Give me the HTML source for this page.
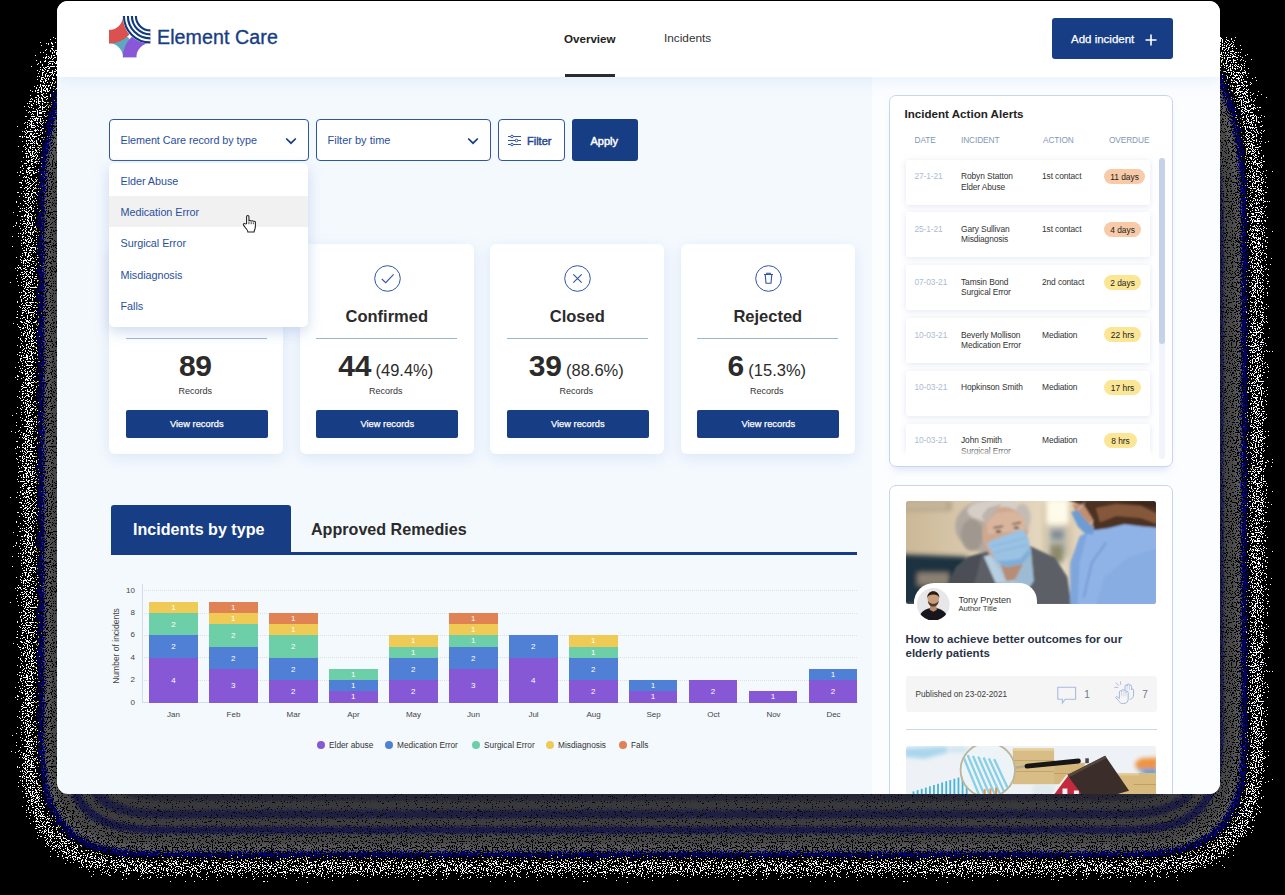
<!DOCTYPE html>
<html><head><meta charset="utf-8">
<style>
*{box-sizing:border-box;margin:0;padding:0}
html,body{width:1285px;height:895px;background:#000;overflow:hidden;font-family:"Liberation Sans",sans-serif;}
.abs{position:absolute}
#win{position:absolute;left:57px;top:1px;width:1163px;height:793px;border-radius:11px;background:#f4f9fe;overflow:hidden}
/* everything inside #win positioned with page coords via inner wrapper shifted */
#pg{position:absolute;left:-57px;top:-1px;width:1285px;height:895px}
#hdr{position:absolute;left:57px;top:0;width:1163px;height:77px;background:#fff;box-shadow:0 3px 16px rgba(150,190,240,.22)}
.navy{color:#173d84}
.t{position:absolute;white-space:nowrap;line-height:1}

.sel{position:absolute;top:119px;height:42px;border:1px solid #2f55a4;border-radius:4px;background:#fff}
.lnk{color:#2a4f9e}
.card{position:absolute;top:244px;width:174px;height:210px;background:#fff;border-radius:6px;box-shadow:0 4px 14px rgba(190,208,236,.45)}
.card .ic{position:absolute;left:74.2px;top:20.6px;width:27px;height:27px}
.card .ttl{position:absolute;left:0;width:174px;top:63px;text-align:center;font-size:16.5px;font-weight:bold;color:#2b2b2b;line-height:18px}
.card .hr{position:absolute;left:16.3px;top:94px;width:141px;height:1px;background:#9bb4dc}
.card .num{position:absolute;left:-1px;width:174px;top:105px;text-align:center;white-space:nowrap;line-height:34px;color:#2b2b2b}
.card .num b{font-size:30px;letter-spacing:-.3px}
.card .num span{font-size:16.5px}
.card .rec{position:absolute;left:-1px;width:174px;top:142px;text-align:center;font-size:9px;color:#333;line-height:11px}
.card .btn{position:absolute;left:16.5px;top:166px;width:142px;height:28px;background:#173d84;border-radius:2px;color:#fff;font-size:9.3px;text-align:center;line-height:28px;-webkit-text-stroke:.25px #fff}

.bl{position:absolute;width:48.9px;color:#fff;font-size:8px;text-align:center}
.ax{position:absolute;font-size:8px;color:#444;line-height:10px}

.pan{position:absolute;left:889px;width:284px;background:#fff;border:1px solid #c9d5ef;border-radius:7px}
.th{position:absolute;top:135px;font-size:8.3px;color:#8397b5;line-height:10px;letter-spacing:-.1px}
.row{position:absolute;left:906px;width:244px;height:45px;background:#fff;border-radius:3px;box-shadow:0 1px 6px rgba(200,210,232,.55)}
.rt{position:absolute;font-size:8.4px;line-height:10.4px;color:#333;white-space:nowrap;letter-spacing:-.1px}
.bdg{position:absolute;left:1104px;height:15px;border-radius:8px;font-size:8.4px;line-height:16.4px;color:#222;text-align:center}
</style></head><body>
<!--SHADOW--><svg class="abs" style="left:0;top:37px" width="1285" height="858" viewBox="0 37 1285 858">
<filter id="sh" x="0" y="0" width="1285" height="895" filterUnits="userSpaceOnUse" color-interpolation-filters="sRGB">
<feGaussianBlur in="SourceAlpha" stdDeviation="36.0" result="A"/>
<feTurbulence type="fractalNoise" baseFrequency="0.8" numOctaves="2" seed="5" result="T"/>
<feColorMatrix in="T" type="matrix" values="0 0 0 0 0  0 0 0 0 0  0 0 0 0 0  0 1 0 0 0" result="NB"/>
<feComposite in="A" in2="NB" operator="arithmetic" k1="0" k2="1" k3="0.1" k4="-0.05" result="AJ"/>
<feComponentTransfer in="AJ" result="PA"><feFuncA type="discrete" tableValues="0 0 0 0 0 0 0 0 0 0 0 0 0 0 0 0 0 0.379 0.379 0.379 0.439 0.439 0.471 0.471 0.471 0.471 0.471 0.471 0.471 0.471 0.471 0.471 0.471 0.471 0.471 0.436 0.436 0.436 0.391 0.391 0.391 0.428 0.428 0.428 0.474 0.474 0.544 0.544 0.544 0.544 0.544 0.544 0.544 0.544 0.544 0.583 0.583 0.583 0.583 0.583 0.583 0.583 0.583 0.583 0.583 0.583 0.583 0.583 0.583 0.588 0.594 0.599 0.605 0.61 0.616 0.621 0.621 0.621 0.621 0.621 0.621 0.621 0.621 0.621 0.621 0.621 0.621 0.621 0.621 0.621 0.621 0.621 0.621 0.621 0.621 0.621 0.621 0.628 0.636 0.643 0.651 0.658 0.666 0.673 0.673 0.673 0.673 0.673 0.673 0.673 0.673 0.673 0.673 0.673 0.673 0.673 0.673 0.673 0.676 0.68 0.683 0.687 0.69 0.694 0.697 0.697 0.697 0.697 0.697 0.697 0.697 0.697 0.697 0.697 0.697 0.697 0.697 0.697 0.697 0.697 0.697 0.697 0.697 0.697 0.697 0.697 0.697 0.697 0.697 0.697 0.697 0.697 0.697 0.697 0.697 0.697 0.697 0.697 0.697 0.697 0.697 0.697 0.7 0.703 0.706 0.708 0.711 0.714 0.717 0.717 0.717 0.717 0.717 0.717 0.717 0.717 0.717 0.717 0.717 0.717 0.717 0.717 0.717 0.717 0.719 0.72 0.722 0.724 0.726 0.727 0.729 0.729 0.729 0.729 0.729 0.729 0.729 0.729 0.729 0.729 0.729 0.729 0.729 0.729 0.729 0.729 0.729 0.729 0.729 0.729 0.729 0.729 0.729 0.729 0.729 0.729 0.729 0.729 0.729 0.729 0.729 0.729 0.729 0.729 0.729 0.729 0.729 0.729 0.729 0.729 0.729 0.729 0.729 0.729 0.729 0.729 0.729 0.729 0.729 0.729 0.729 0.729 0.729 0.729 0.729 0.729 0.729 0.729 0.729 0.729"/></feComponentTransfer>
<feColorMatrix in="T" type="matrix" values="0 0 0 0 0  0 0 0 0 0  0 0 0 0 0  1 0 0 0 0" result="NA"/>
<feComposite in="PA" in2="NA" operator="arithmetic" k1="0" k2="1" k3="-1" k4="0.48" result="V"/>
<feComponentTransfer in="V" result="D"><feFuncA type="discrete" tableValues="0 1"/></feComponentTransfer>
<feColorMatrix in="AJ" type="matrix" values="0 0 0 1 0  0 0 0 1 0  0 0 0 1 0  0 0 0 0 1" result="AC"/>
<feComponentTransfer in="AC" result="CA"><feFuncR type="discrete" tableValues="0 0 0 0 0 0 0 0 0 0 0 0 0 0 0 0 0 1 1 1 1 1 1 1 1 1 1 1 1 1 1 1 1 1 1 1 1 1 0.922 0.922 0.922 0.784 0.784 0.784 0 0 0 0 0 0 0 0 0 0 0 0.188 0.188 0.188 0.353 0.353 0.353 0.353 0.353 0.353 0.353 0.353 0.353 0.353 0.353 0.343 0.333 0.323 0.312 0.302 0.292 0.282 0.282 0.282 0.282 0.282 0.282 0.282 0.282 0.282 0.282 0.282 0.282 0.282 0.282 0.282 0.282 0.282 0.282 0.282 0.282 0.282 0.282 0.256 0.231 0.205 0.179 0.153 0.128 0.102 0.102 0.102 0.102 0.102 0.102 0.102 0.102 0.102 0.102 0.102 0.102 0.102 0.102 0.102 0.122 0.142 0.162 0.183 0.203 0.223 0.243 0.243 0.243 0.243 0.243 0.243 0.243 0.243 0.243 0.243 0.243 0.243 0.243 0.243 0.243 0.226 0.209 0.192 0.176 0.159 0.142 0.125 0.125 0.125 0.125 0.125 0.125 0.125 0.125 0.125 0.125 0.125 0.125 0.125 0.125 0.125 0.125 0.125 0.14 0.154 0.169 0.183 0.198 0.212 0.227 0.227 0.227 0.227 0.227 0.227 0.227 0.227 0.227 0.227 0.227 0.227 0.227 0.227 0.227 0.227 0.216 0.205 0.194 0.182 0.171 0.16 0.149 0.149 0.149 0.149 0.149 0.149 0.149 0.149 0.149 0.149 0.149 0.149 0.149 0.149 0.149 0.149 0.149 0.149 0.149 0.149 0.149 0.149 0.149 0.149 0.149 0.149 0.149 0.149 0.149 0.149 0.149 0.149 0.149 0.149 0.149 0.149 0.149 0.149 0.149 0.149 0.149 0.149 0.149 0.149 0.149 0.149 0.149 0.149 0.149 0.149 0.149 0.149 0.149 0.149 0.149 0.149 0.149 0.149 0.149 0.149"/><feFuncG type="discrete" tableValues="0 0 0 0 0 0 0 0 0 0 0 0 0 0 0 0 0 1 1 1 1 1 1 1 1 1 1 1 1 1 1 1 1 1 1 1 1 1 0.922 0.922 0.922 0.706 0.706 0.706 0 0 0 0 0 0 0 0 0 0 0 0.188 0.188 0.188 0.353 0.353 0.353 0.353 0.353 0.353 0.353 0.353 0.353 0.353 0.353 0.343 0.333 0.323 0.312 0.302 0.292 0.282 0.282 0.282 0.282 0.282 0.282 0.282 0.282 0.282 0.282 0.282 0.282 0.282 0.282 0.282 0.282 0.282 0.282 0.282 0.282 0.282 0.282 0.256 0.231 0.205 0.179 0.153 0.128 0.102 0.102 0.102 0.102 0.102 0.102 0.102 0.102 0.102 0.102 0.102 0.102 0.102 0.102 0.102 0.122 0.142 0.162 0.183 0.203 0.223 0.243 0.243 0.243 0.243 0.243 0.243 0.243 0.243 0.243 0.243 0.243 0.243 0.243 0.243 0.243 0.226 0.209 0.192 0.176 0.159 0.142 0.125 0.125 0.125 0.125 0.125 0.125 0.125 0.125 0.125 0.125 0.125 0.125 0.125 0.125 0.125 0.125 0.125 0.14 0.154 0.169 0.183 0.198 0.212 0.227 0.227 0.227 0.227 0.227 0.227 0.227 0.227 0.227 0.227 0.227 0.227 0.227 0.227 0.227 0.227 0.216 0.205 0.194 0.182 0.171 0.16 0.149 0.149 0.149 0.149 0.149 0.149 0.149 0.149 0.149 0.149 0.149 0.149 0.149 0.149 0.149 0.149 0.149 0.149 0.149 0.149 0.149 0.149 0.149 0.149 0.149 0.149 0.149 0.149 0.149 0.149 0.149 0.149 0.149 0.149 0.149 0.149 0.149 0.149 0.149 0.149 0.149 0.149 0.149 0.149 0.149 0.149 0.149 0.149 0.149 0.149 0.149 0.149 0.149 0.149 0.149 0.149 0.149 0.149 0.149 0.149"/><feFuncB type="discrete" tableValues="0 0 0 0 0 0 0 0 0 0 0 0 0 0 0 0 0 1 1 1 1 1 1 1 1 1 1 1 1 1 1 1 1 1 1 1 1 1 0.922 0.922 0.922 0 0 0 0.49 0.49 0.502 0.502 0.502 0.502 0.502 0.502 0.502 0.502 0.502 0.408 0.408 0.408 0.353 0.353 0.353 0.353 0.353 0.353 0.353 0.353 0.353 0.353 0.353 0.343 0.333 0.323 0.312 0.302 0.292 0.282 0.282 0.282 0.282 0.282 0.282 0.282 0.282 0.282 0.282 0.282 0.282 0.282 0.282 0.282 0.282 0.282 0.282 0.282 0.282 0.282 0.282 0.284 0.287 0.289 0.291 0.293 0.296 0.298 0.298 0.298 0.298 0.298 0.298 0.298 0.298 0.298 0.298 0.298 0.298 0.298 0.298 0.298 0.29 0.282 0.274 0.267 0.259 0.251 0.243 0.243 0.243 0.243 0.243 0.243 0.243 0.243 0.243 0.243 0.243 0.243 0.243 0.243 0.243 0.245 0.248 0.25 0.252 0.254 0.257 0.259 0.259 0.259 0.259 0.259 0.259 0.259 0.259 0.259 0.259 0.259 0.259 0.259 0.259 0.259 0.259 0.259 0.256 0.252 0.249 0.245 0.242 0.238 0.235 0.235 0.235 0.235 0.235 0.235 0.235 0.235 0.235 0.235 0.235 0.235 0.235 0.235 0.235 0.235 0.231 0.226 0.222 0.217 0.213 0.208 0.204 0.204 0.204 0.204 0.204 0.204 0.204 0.204 0.204 0.204 0.204 0.204 0.204 0.204 0.204 0.204 0.204 0.204 0.204 0.204 0.204 0.204 0.204 0.204 0.204 0.204 0.204 0.204 0.204 0.204 0.204 0.204 0.204 0.204 0.204 0.204 0.204 0.204 0.204 0.204 0.204 0.204 0.204 0.204 0.204 0.204 0.204 0.204 0.204 0.204 0.204 0.204 0.204 0.204 0.204 0.204 0.204 0.204 0.204 0.204"/></feComponentTransfer>
<feComposite in="CA" in2="D" operator="in"/>
</filter>
<linearGradient id="shg" gradientUnits="userSpaceOnUse" x1="0" y1="3.5" x2="0" y2="168.5"><stop offset="0" stop-color="#000" stop-opacity="0"/><stop offset="1" stop-color="#000" stop-opacity="1"/></linearGradient>
<rect x="71.0" y="3.5" width="1143.5" height="821.2" rx="11" fill="url(#shg)" filter="url(#sh)"/>
</svg><!--/SHADOW-->
<div id="win"><div id="pg">
<div id="side" class="abs" style="left:872px;top:77px;width:348px;height:720px;background:#fcfdff"></div>
<div id="hdr"></div>

<svg class="abs" style="left:109px;top:16px" width="42" height="42" viewBox="0 0 42 42">
<path d="M0,13.799999999999997 A27.5 27.5 0 0 1 27.5,41.3 L14,41.3 A14 14 0 0 0 0,27.299999999999997 Z" fill="#5aa9be"/>
<path d="M13.799999999999997,41.3 A27.5 27.5 0 0 1 41.3,13.799999999999997 L41.3,27.299999999999997 A14 14 0 0 0 27.299999999999997,41.3 Z" fill="#8957d8"/>
<path d="M14,0 L27.5,0 A27.5 27.5 0 0 1 0,27.5 L0,14 A14 14 0 0 0 14,0 Z" fill="#da5150"/>
<path d="M41.3,27.8 A27.8 27.8 0 0 1 13.499999999999996,0 L28.299999999999997,0 A13 13 0 0 0 41.3,13 Z" fill="#fff"/>
<g fill="none" stroke="#123a7c" stroke-width="2.15">
<path d="M14.899999999999999,0 A26.4 26.4 0 0 0 41.3,26.4"/>
<path d="M18.9,0 A22.4 22.4 0 0 0 41.3,22.4"/>
<path d="M22.9,0 A18.4 18.4 0 0 0 41.3,18.4"/>
<path d="M26.9,0 A14.4 14.4 0 0 0 41.3,14.4"/>
</g></svg>
<div class="t" id="brand" style="left:157px;top:28px;font-size:19.6px;letter-spacing:.1px;color:#173d84;-webkit-text-stroke:.35px #173d84">Element Care</div>
<div class="t" id="nav1" style="left:564px;top:33px;font-size:11.6px;font-weight:bold;color:#222">Overview</div>
<div class="abs" style="left:565px;top:74px;width:50px;height:3px;background:#2b2b2b"></div>
<div class="t" id="nav2" style="left:664px;top:33px;font-size:11.8px;color:#333">Incidents</div>
<div class="abs" style="left:1052px;top:18px;width:121px;height:41px;border-radius:3px;background:#173d84"></div>
<div class="t" id="addinc" style="left:1071px;top:34px;font-size:11.5px;color:#fff;-webkit-text-stroke:.25px #fff">Add incident</div>
<svg class="abs" style="left:1145px;top:33.6px" width="12" height="12" viewBox="0 0 12 12"><path d="M6 .5V11.5M.5 6H11.5" stroke="#fff" stroke-width="1.6" fill="none"/></svg>
<!--HEADER-->

<div class="sel" style="left:109px;width:200px"></div>
<div class="t lnk" id="f1" style="left:120.5px;top:135px;font-size:10.8px;letter-spacing:-.04px">Element Care record by type</div>
<svg class="abs" style="left:285px;top:137px" width="12" height="8" viewBox="0 0 12 8"><path d="M1.2 1.5L6 6.2L10.8 1.5" fill="none" stroke="#173d84" stroke-width="1.7"/></svg>
<div class="sel" style="left:316px;width:175px"></div>
<div class="t lnk" id="f2" style="left:327.5px;top:135px;font-size:11px">Filter by time</div>
<svg class="abs" style="left:467px;top:137px" width="12" height="8" viewBox="0 0 12 8"><path d="M1.2 1.5L6 6.2L10.8 1.5" fill="none" stroke="#173d84" stroke-width="1.7"/></svg>
<div class="sel" style="left:498px;width:67px"></div>
<svg class="abs" style="left:508px;top:134px" width="14" height="13" viewBox="0 0 14 13"><g stroke="#2f55a4" stroke-width="1" fill="#fff"><path d="M0 2.5H13M0 6.5H13M0 10.5H13"/><circle cx="4" cy="2.5" r="1.3"/><circle cx="8.5" cy="6.5" r="1.3"/><circle cx="4" cy="10.5" r="1.3"/></g></svg>
<div class="t" id="f3" style="left:527px;top:135.5px;font-size:11px;color:#1f4692;-webkit-text-stroke:.45px #1f4692">Filter</div>
<div class="abs" style="left:572px;top:119px;width:66px;height:42px;border-radius:3px;background:#173d84"></div>
<div class="t" id="f4" style="left:590.5px;top:135.5px;font-size:11px;color:#fff;-webkit-text-stroke:.45px #fff">Apply</div>
<!--FILTERS-->
<div class="card" style="left:109.3px"><svg class="ic" viewBox="0 0 27 27"><circle cx="13.5" cy="13.5" r="12.8" fill="none" stroke="#2f55a4" stroke-width="1"/></svg>
<div class="ttl">Pending</div><div class="hr"></div><div class="num"><b>89</b></div><div class="rec">Records</div><div class="btn">View records</div></div>
<div class="card" style="left:299.8px"><svg class="ic" viewBox="0 0 27 27"><circle cx="13.5" cy="13.5" r="12.8" fill="none" stroke="#2f55a4" stroke-width="1"/><path d="M7.8 14L11.7 17.7L19.6 9.3" fill="none" stroke="#2f55a4" stroke-width="1.1"/></svg>
<div class="ttl">Confirmed</div><div class="hr"></div><div class="num"><b>44</b> <span>(49.4%)</span></div><div class="rec">Records</div><div class="btn">View records</div></div>
<div class="card" style="left:490.3px"><svg class="ic" viewBox="0 0 27 27"><circle cx="13.5" cy="13.5" r="12.8" fill="none" stroke="#2f55a4" stroke-width="1"/><path d="M9.3 9.3L17.7 17.7M17.7 9.3L9.3 17.7" fill="none" stroke="#2f55a4" stroke-width="1.1"/></svg>
<div class="ttl">Closed</div><div class="hr"></div><div class="num"><b>39</b> <span>(88.6%)</span></div><div class="rec">Records</div><div class="btn">View records</div></div>
<div class="card" style="left:680.8px"><svg class="ic" viewBox="0 0 27 27"><circle cx="13.5" cy="13.5" r="12.8" fill="none" stroke="#2f55a4" stroke-width="1"/><path d="M9 9.5H18M11.7 9.5V8.3H15.3V9.5M10.2 9.5L11 18.3H16L16.8 9.5" fill="none" stroke="#2f55a4" stroke-width="1.1"/></svg>
<div class="ttl">Rejected</div><div class="hr"></div><div class="num"><b>6</b> <span>(15.3%)</span></div><div class="rec">Records</div><div class="btn">View records</div></div>
<!--CARDS-->

<div class="abs" style="left:109px;top:163px;width:199px;height:164px;background:#fff;border-radius:5px;box-shadow:0 5px 14px rgba(170,190,225,.55)"></div>
<div class="abs" style="left:109px;top:196px;width:199px;height:31px;background:#f1f1f1"></div>
<div class="t lnk" style="left:120.5px;top:175.6px;font-size:10.8px;letter-spacing:-.04px">Elder Abuse</div>
<div class="t lnk" style="left:120.5px;top:206.5px;font-size:10.8px;letter-spacing:-.04px">Medication Error</div>
<div class="t lnk" style="left:120.5px;top:238px;font-size:10.8px;letter-spacing:-.04px">Surgical Error</div>
<div class="t lnk" style="left:120.5px;top:269.5px;font-size:10.8px;letter-spacing:-.04px">Misdiagnosis</div>
<div class="t lnk" style="left:120.5px;top:301px;font-size:10.8px;letter-spacing:-.04px">Falls</div>
<svg class="abs" style="left:241px;top:214px" width="17.2" height="19.4" viewBox="0 0 16 19" preserveAspectRatio="none"><path d="M5.2 9.5V2.6c0-1.5 2.2-1.5 2.2 0V7.2c0-1.2 2.1-1.2 2.1.2c0-1.1 2-1 2 .3c0-1 1.9-.8 1.9.4V12c0 3-1.2 4-1.2 5.6H6.4c0-1.6-1-2.4-2.3-4.2L2.4 10.9c-.8-1.3.8-2.2 1.7-1.1z" fill="#fff" stroke="#222" stroke-width="1"/><path d="M7.4 7.5V10M9.5 7.8V10M11.5 8.2V10" stroke="#222" stroke-width=".8" fill="none"/></svg>
<!--DROPDOWN-->

<div class="abs" style="left:111px;top:552.3px;width:746px;height:2.4px;background:#173d84"></div>
<div class="abs" style="left:111px;top:504.6px;width:179.5px;height:50px;background:#173d84;border-radius:3px 3px 0 3px"></div>
<div class="t" id="tab1" style="left:133px;top:521px;font-size:16.1px;font-weight:bold;color:#fff">Incidents by type</div>
<div class="t" id="tab2" style="left:311px;top:521px;font-size:16.1px;font-weight:bold;color:#2b2b2b">Approved Remedies</div>
<!--TABS-->
<div class="abs" style="left:142px;top:679.7px;width:715px;height:0;border-top:1px dotted #dce1e8"></div>
<div class="abs" style="left:142px;top:657.3px;width:715px;height:0;border-top:1px dotted #dce1e8"></div>
<div class="abs" style="left:142px;top:634.9px;width:715px;height:0;border-top:1px dotted #dce1e8"></div>
<div class="abs" style="left:142px;top:612.5px;width:715px;height:0;border-top:1px dotted #dce1e8"></div>
<div class="abs" style="left:142px;top:590.1px;width:715px;height:0;border-top:1px dotted #dce1e8"></div>
<div class="abs" style="left:141.5px;top:584px;width:1px;height:118.6px;background:#d5dcea"></div>
<div class="abs" style="left:141.5px;top:702.1px;width:716px;height:1px;background:#d5dcea"></div>
<div class="ax" style="left:115px;width:20px;text-align:right;top:697.6px">0</div>
<div class="ax" style="left:115px;width:20px;text-align:right;top:675.2px">2</div>
<div class="ax" style="left:115px;width:20px;text-align:right;top:652.8px">4</div>
<div class="ax" style="left:115px;width:20px;text-align:right;top:630.4px">6</div>
<div class="ax" style="left:115px;width:20px;text-align:right;top:608.0px">8</div>
<div class="ax" style="left:115px;width:20px;text-align:right;top:585.6px">10</div>
<div class="ax" style="left:76px;top:641px;width:80px;text-align:center;transform:rotate(-90deg);font-size:8.5px">Number of incidents</div>
<div class="bl" style="left:149.0px;top:657.8px;height:44.8px;line-height:45.8px;background:#8758d6">4</div><div class="bl" style="left:149.0px;top:635.4px;height:22.4px;line-height:23.4px;background:#4f80d6">2</div><div class="bl" style="left:149.0px;top:613.0px;height:22.4px;line-height:23.4px;background:#6dcfa8">2</div><div class="bl" style="left:149.0px;top:601.8px;height:11.2px;line-height:12.2px;background:#efcb55">1</div><div class="ax" style="left:149px;width:49px;text-align:center;top:710px">Jan</div>
<div class="bl" style="left:208.9px;top:669.0px;height:33.6px;line-height:34.6px;background:#8758d6">3</div><div class="bl" style="left:208.9px;top:646.6px;height:22.4px;line-height:23.4px;background:#4f80d6">2</div><div class="bl" style="left:208.9px;top:624.2px;height:22.4px;line-height:23.4px;background:#6dcfa8">2</div><div class="bl" style="left:208.9px;top:613.0px;height:11.2px;line-height:12.2px;background:#efcb55">1</div><div class="bl" style="left:208.9px;top:601.8px;height:11.2px;line-height:12.2px;background:#e08254">1</div><div class="ax" style="left:209px;width:49px;text-align:center;top:710px">Feb</div>
<div class="bl" style="left:268.9px;top:680.2px;height:22.4px;line-height:23.4px;background:#8758d6">2</div><div class="bl" style="left:268.9px;top:657.8px;height:22.4px;line-height:23.4px;background:#4f80d6">2</div><div class="bl" style="left:268.9px;top:635.4px;height:22.4px;line-height:23.4px;background:#6dcfa8">2</div><div class="bl" style="left:268.9px;top:624.2px;height:11.2px;line-height:12.2px;background:#efcb55">1</div><div class="bl" style="left:268.9px;top:613.0px;height:11.2px;line-height:12.2px;background:#e08254">1</div><div class="ax" style="left:269px;width:49px;text-align:center;top:710px">Mar</div>
<div class="bl" style="left:328.9px;top:691.4px;height:11.2px;line-height:12.2px;background:#8758d6">1</div><div class="bl" style="left:328.9px;top:680.2px;height:11.2px;line-height:12.2px;background:#4f80d6">1</div><div class="bl" style="left:328.9px;top:669.0px;height:11.2px;line-height:12.2px;background:#6dcfa8">1</div><div class="ax" style="left:329px;width:49px;text-align:center;top:710px">Apr</div>
<div class="bl" style="left:388.8px;top:680.2px;height:22.4px;line-height:23.4px;background:#8758d6">2</div><div class="bl" style="left:388.8px;top:657.8px;height:22.4px;line-height:23.4px;background:#4f80d6">2</div><div class="bl" style="left:388.8px;top:646.6px;height:11.2px;line-height:12.2px;background:#6dcfa8">1</div><div class="bl" style="left:388.8px;top:635.4px;height:11.2px;line-height:12.2px;background:#efcb55">1</div><div class="ax" style="left:389px;width:49px;text-align:center;top:710px">May</div>
<div class="bl" style="left:448.8px;top:669.0px;height:33.6px;line-height:34.6px;background:#8758d6">3</div><div class="bl" style="left:448.8px;top:646.6px;height:22.4px;line-height:23.4px;background:#4f80d6">2</div><div class="bl" style="left:448.8px;top:635.4px;height:11.2px;line-height:12.2px;background:#6dcfa8">1</div><div class="bl" style="left:448.8px;top:624.2px;height:11.2px;line-height:12.2px;background:#efcb55">1</div><div class="bl" style="left:448.8px;top:613.0px;height:11.2px;line-height:12.2px;background:#e08254">1</div><div class="ax" style="left:449px;width:49px;text-align:center;top:710px">Jun</div>
<div class="bl" style="left:508.7px;top:657.8px;height:44.8px;line-height:45.8px;background:#8758d6">4</div><div class="bl" style="left:508.7px;top:635.4px;height:22.4px;line-height:23.4px;background:#4f80d6">2</div><div class="ax" style="left:509px;width:49px;text-align:center;top:710px">Jul</div>
<div class="bl" style="left:568.7px;top:680.2px;height:22.4px;line-height:23.4px;background:#8758d6">2</div><div class="bl" style="left:568.7px;top:657.8px;height:22.4px;line-height:23.4px;background:#4f80d6">2</div><div class="bl" style="left:568.7px;top:646.6px;height:11.2px;line-height:12.2px;background:#6dcfa8">1</div><div class="bl" style="left:568.7px;top:635.4px;height:11.2px;line-height:12.2px;background:#efcb55">1</div><div class="ax" style="left:569px;width:49px;text-align:center;top:710px">Aug</div>
<div class="bl" style="left:628.6px;top:691.4px;height:11.2px;line-height:12.2px;background:#8758d6">1</div><div class="bl" style="left:628.6px;top:680.2px;height:11.2px;line-height:12.2px;background:#4f80d6">1</div><div class="ax" style="left:629px;width:49px;text-align:center;top:710px">Sep</div>
<div class="bl" style="left:688.6px;top:680.2px;height:22.4px;line-height:23.4px;background:#8758d6">2</div><div class="ax" style="left:689px;width:49px;text-align:center;top:710px">Oct</div>
<div class="bl" style="left:748.5px;top:691.4px;height:11.2px;line-height:12.2px;background:#8758d6">1</div><div class="ax" style="left:749px;width:49px;text-align:center;top:710px">Nov</div>
<div class="bl" style="left:808.5px;top:680.2px;height:22.4px;line-height:23.4px;background:#8758d6">2</div><div class="bl" style="left:808.5px;top:669.0px;height:11.2px;line-height:12.2px;background:#4f80d6">1</div><div class="ax" style="left:809px;width:49px;text-align:center;top:710px">Dec</div>
<div class="abs" style="left:317px;top:741px;width:8px;height:8px;border-radius:4px;background:#8758d6"></div><div class="ax" style="left:329px;top:740px;font-size:8.3px;white-space:nowrap;color:#333">Elder abuse</div>
<div class="abs" style="left:385px;top:741px;width:8px;height:8px;border-radius:4px;background:#4f80d6"></div><div class="ax" style="left:397px;top:740px;font-size:8.3px;white-space:nowrap;color:#333">Medication Error</div>
<div class="abs" style="left:472px;top:741px;width:8px;height:8px;border-radius:4px;background:#6dcfa8"></div><div class="ax" style="left:484px;top:740px;font-size:8.3px;white-space:nowrap;color:#333">Surgical Error</div>
<div class="abs" style="left:546px;top:741px;width:8px;height:8px;border-radius:4px;background:#efcb55"></div><div class="ax" style="left:558px;top:740px;font-size:8.3px;white-space:nowrap;color:#333">Misdiagnosis</div>
<div class="abs" style="left:619px;top:741px;width:8px;height:8px;border-radius:4px;background:#e08254"></div><div class="ax" style="left:631px;top:740px;font-size:8.3px;white-space:nowrap;color:#333">Falls</div>
<!--CHART-->

<div class="pan" style="top:95px;height:372px;box-shadow:0 6px 8px -4px rgba(190,205,235,.6)"></div>
<div class="t" id="altitle" style="left:904.5px;top:108px;font-size:11.6px;font-weight:bold;color:#222">Incident Action Alerts</div>
<div class="th" style="left:914.5px">DATE</div><div class="th" style="left:961px">INCIDENT</div><div class="th" style="left:1043px">ACTION</div><div class="th" style="left:1109px">OVERDUE</div>
<div class="abs" style="left:900px;top:152px;width:268px;height:303px;overflow:hidden"><div class="abs" style="left:-900px;top:-152px">
<div class="row" style="top:159.6px"></div><div class="rt" style="left:914.5px;top:171.1px;color:#aebbd2">27-1-21</div><div class="rt" style="left:961px;top:171.1px">Robyn Statton<br>Elder Abuse</div><div class="rt" style="left:1042px;top:171.1px">1st contact</div><div class="bdg" style="top:168.9px;width:41px;background:#f9caa7">11 days</div>
<div class="row" style="top:212.4px"></div><div class="rt" style="left:914.5px;top:223.9px;color:#aebbd2">25-1-21</div><div class="rt" style="left:961px;top:223.9px">Gary Sullivan<br>Misdiagnosis</div><div class="rt" style="left:1042px;top:223.9px">1st contact</div><div class="bdg" style="top:221.7px;width:37px;background:#f9caa7">4 days</div>
<div class="row" style="top:265.2px"></div><div class="rt" style="left:914.5px;top:276.7px;color:#aebbd2">07-03-21</div><div class="rt" style="left:961px;top:276.7px">Tamsin Bond<br>Surgical Error</div><div class="rt" style="left:1042px;top:276.7px">2nd contact</div><div class="bdg" style="top:274.5px;width:37px;background:#fbe695">2 days</div>
<div class="row" style="top:318.0px"></div><div class="rt" style="left:914.5px;top:329.5px;color:#aebbd2">10-03-21</div><div class="rt" style="left:961px;top:329.5px">Beverly Mollison<br>Medication Error</div><div class="rt" style="left:1042px;top:329.5px">Mediation</div><div class="bdg" style="top:327.3px;width:37px;background:#fbe695">22 hrs</div>
<div class="row" style="top:370.8px"></div><div class="rt" style="left:914.5px;top:382.3px;color:#aebbd2">10-03-21</div><div class="rt" style="left:961px;top:382.3px">Hopkinson Smith<br></div><div class="rt" style="left:1042px;top:382.3px">Mediation</div><div class="bdg" style="top:380.1px;width:37px;background:#fbe695">17 hrs</div>
<div class="row" style="top:423.6px"></div><div class="rt" style="left:914.5px;top:435.1px;color:#aebbd2">10-03-21</div><div class="rt" style="left:961px;top:435.1px">John Smith<br>Surgical Error</div><div class="rt" style="left:1042px;top:435.1px">Mediation</div><div class="bdg" style="top:432.9px;width:33px;background:#fbe695">8 hrs</div>
</div></div>
<div class="abs" style="left:1159px;top:157.5px;width:5.5px;height:301px;border-radius:3px;background:#f1f4fb"></div>
<div class="abs" style="left:1159px;top:157.5px;width:5.5px;height:186.5px;border-radius:3px;background:#c6d1ea"></div>
<div class="abs" style="left:900px;top:447px;width:255px;height:8px;background:linear-gradient(rgba(255,255,255,0),rgba(255,255,255,.75))"></div>
<!--ALERTS-->

<div class="pan" style="top:484.5px;height:330px"></div>
<svg class="abs" style="left:906px;top:501.3px;border-radius:2.5px" width="250.3" height="102.7" viewBox="0 0 250 103" preserveAspectRatio="none">
<defs><filter id="b1" x="-5%" y="-5%" width="110%" height="110%"><feGaussianBlur stdDeviation="1.1"/></filter>
<filter id="b3" x="-10%" y="-10%" width="120%" height="120%"><feGaussianBlur stdDeviation="2.6"/></filter>
<filter id="b2" x="-10%" y="-10%" width="120%" height="120%"><feGaussianBlur stdDeviation="1.8"/></filter>
<linearGradient id="wall" x1="0" x2="1"><stop offset="0" stop-color="#cbb897"/><stop offset=".2" stop-color="#d6c5a8"/><stop offset=".5" stop-color="#e2d4bb"/><stop offset=".6" stop-color="#eadfca"/><stop offset=".7" stop-color="#e1d3bb"/><stop offset="1" stop-color="#cdbb9f"/></linearGradient></defs>
<rect width="250" height="103" fill="url(#wall)"/>
<g filter="url(#b3)">
<rect x="-4.0" y="0.0" width="48.9" height="9.4" fill="#a39279"/><rect x="-1.9" y="1.6" width="43.8" height="5.7" fill="#cdbca0"/>
<path d="M-6.0,53.4 L61.3,55.9 L63.3,104.8 L-6.0,104.8 Z" fill="#1b3040"/>
<rect x="11.3" y="71.8" width="31.6" height="13.0" fill="#8b8173"/>
<rect x="140.0" y="-1.2" width="22.4" height="23.6" fill="#fffbea"/>
<rect x="136.7" y="0.8" width="3.3" height="79.5" fill="#cfbd9c"/>
<rect x="142.0" y="25.3" width="19.6" height="30.6" fill="#b9b9ae"/><rect x="144.9" y="29.4" width="12.2" height="9.2" fill="#7f8c96"/>
<rect x="143.9" y="43.6" width="13.3" height="18.3" fill="#8d8a6c"/>
<rect x="162.4" y="0.8" width="4.9" height="79.5" fill="#d8c7a8"/>
</g>
<g filter="url(#b2)">
<ellipse cx="85.7" cy="25.3" rx="36.7" ry="27.5" fill="#b1a8a0"/>
<ellipse cx="89.8" cy="10.0" rx="28.5" ry="11.2" fill="#d6cfc7"/>
<ellipse cx="66" cy="34" rx="11" ry="16" fill="#a0978e"/>
<ellipse cx="116.3" cy="17.1" rx="8.2" ry="14.3" fill="#c4bcb4"/>
</g>
<g filter="url(#b1)">
<path d="M41.9,104.8 L42.5,82.4 L50.1,66.1 L62.3,55.9 L81.7,50.2 L124.5,45.3 L149.0,56.9 L161.2,76.2 L165.3,104.8 Z" fill="#5c6066"/>
<path d="M41.9,104.8 L42.5,82.4 L50.1,66.1 L62.3,55.9 L75.6,52.8 L71.5,72.2 L61.3,104.8 Z" fill="#4b4f55"/>
<path d="M78.0,55.9 L89.8,52.8 L124.5,46.7 L127.5,80.3 L122.4,86.4 L89.8,82.4 Z" fill="#a9c5da"/>
<path d="M93.9,62.0 L116.3,62.0 L114.3,78.3 L100.0,80.3 Z" fill="#b78d74"/>
<path d="M78.0,55.9 L83.7,53.8 L100.0,80.3 L89.8,82.4 Z" fill="#b7cfe0"/>
<path d="M108.2,80.3 L124.5,47.7 L127.5,80.3 L123.5,86.4 Z" fill="#9dbbd2"/>
<ellipse cx="98.4" cy="33.4" rx="22.0" ry="27.5" fill="#cea88e"/>
<path d="M80.7,21.2 L89.8,12.0 L108.2,10.0 L118.4,17.1 L119.4,29.4 L81.7,33.4 Z" fill="#d8b59c"/>
<path d="M87.4,26.9 L97.0,25.3 M106.1,23.2 L114.7,21.6" stroke="#5b4a40" stroke-width="1.5" fill="none"/>
<ellipse cx="92.3" cy="30.6" rx="2.9" ry="1.4" fill="#6a564a"/><ellipse cx="110.2" cy="26.9" rx="2.7" ry="1.4" fill="#6a564a"/>
<path d="M80.7,42.6 L87.8,38.5 L116.3,28.3 L122.9,38.5 L123.7,53.8 L116.3,63.0 L100.0,66.1 L89.8,59.9 Z" fill="#9ac2e3"/>
<path d="M89.8,59.9 L100.0,66.1 L116.3,63.0 L123.7,53.8 L122.9,47.7 L114.3,57.9 L100.0,59.9 Z" fill="#7eafd9"/>
<path d="M85.7,45.7 L121.4,36.5 M87.8,51.8 L122.9,43.6" stroke="#86b3dc" stroke-width="1" fill="none"/>
<path d="M79.6,23.2 L75.6,15.1 L81.7,6.9 L95.9,2.9 L83.7,17.1 Z" fill="#bdb4ac"/>
<path d="M164.2,104.8 L164.2,62.0 L173.4,35.5 L187.7,27.7 L218.3,23.2 L250.9,25.3 L250.9,104.8 Z" fill="#8fb3e7"/>
<path d="M164.2,104.8 L164.2,62.0 L173.4,35.5 L181.6,31.4 L173.4,62.0 L171.4,104.8 Z" fill="#7fa5dd"/>
<path d="M189.7,104.8 L197.9,76.2 L222.3,55.9 L250.9,47.7 L250.9,104.8 Z" fill="#88ade3"/>
<path d="M177.5,96.6 L185.6,62.0 L199.9,41.6" stroke="#7a9fd8" stroke-width="2.4" fill="none"/>
<path d="M161.6,-1.2 L251.3,-1.2 L251.3,26.9 L234.6,25.3 L218.3,23.2 L202.0,27.3 L187.7,29.4 L185.6,17.1 L177.5,4.9 L169.3,2.0 Z" fill="#4c3324"/>
<path d="M189.7,6.9 L210.1,2.9 L234.6,4.9 L251.3,13.0 L251.3,23.2 L234.6,17.1 L210.1,15.1 L193.8,21.2 Z" fill="#86593a"/>
<path d="M206.0,0.0 L251.3,0.0 L251.3,6.9 L228.5,2.9 Z" fill="#3c281c"/>
<path d="M166.3,2.9 L177.5,3.7 L185.6,17.1 L187.3,27.3 L177.5,25.3 L171.4,17.1 Z" fill="#c28f70"/>
<path d="M164.9,11.0 L171.4,9.0 L179.5,19.2 L187.7,27.3 L186.7,33.8 L178.5,32.4 L171.4,25.3 Z" fill="#6c9cd1"/>
<path d="M171.4,9.4 L178.5,1.6 M183.6,23.2 L187.3,18.8" stroke="#e8eef5" stroke-width=".8" fill="none"/>
</g>
</svg>
<div class="abs" style="left:913.6px;top:583.3px;width:123.6px;height:21px;border-radius:20px 18px 0 0;background:#fff"></div>
<div class="abs" style="left:913.6px;top:583.8px;width:40px;height:40px;border-radius:20px;background:#fff"></div>
<svg class="abs" style="left:917.3px;top:587.5px" width="32.6" height="32.6" viewBox="-16.3 -16.3 32.6 32.6"><defs><clipPath id="av"><circle r="16.3"/></clipPath><filter id="b0"><feGaussianBlur stdDeviation=".5"/></filter></defs>
<g clip-path="url(#av)"><rect x="-17" y="-17" width="34" height="34" fill="#e7e7ea"/>
<g filter="url(#b0)"><ellipse cx="0" cy="15.5" rx="14.5" ry="12" fill="#17151d"/><path d="M-3,1 L3,1 L3.6,5.5 L0,7.5 L-3.6,5.5 Z" fill="#b98b6c"/>
<ellipse cx="0" cy="-5.6" rx="5.8" ry="7.4" fill="#c99c7c"/><path d="M-6,-6.4 C-6.6,-15.4 6.6,-15.4 6,-6.4 C4.6,-10.8 -4.6,-10.8 -6,-6.4 Z" fill="#2a1f18"/><path d="M-5.4,-3.4 C-4.6,4.2 4.6,4.2 5.4,-3.4 C3.4,0 -3.4,0 -5.4,-3.4 Z" fill="#4e382b"/><path d="M-2.4,-1.6 Q0,.2 2.4,-1.6 Q0,-.6 -2.4,-1.6Z" fill="#f4eeee"/></g></g></svg>
<div class="t" id="auth" style="left:958.5px;top:595.9px;font-size:9.1px;color:#333">Tony Prysten</div>
<div class="t" style="left:958.5px;top:605.3px;font-size:7.6px;color:#333">Author Title</div>
<div class="abs" id="arttitle" style="left:905.5px;top:631.5px;width:250px;font-size:11.5px;font-weight:bold;line-height:14px;color:#2a3347">How to achieve better outcomes for our<br>elderly patients</div>
<div class="abs" style="left:906px;top:676px;width:251px;height:35.6px;border-radius:3px;background:#f5f5f5"></div>
<div class="t" id="pub" style="left:915.5px;top:691.1px;font-size:8.2px;color:#3a3a3a">Published on 23-02-2021</div>
<svg class="abs" style="left:1056px;top:685px" width="22" height="20" viewBox="0 0 22 20"><path d="M1.8 2.2H19.6V14.2H9.2L6.4 18V14.2H1.8Z" fill="none" stroke="#a9bbdf" stroke-width="1.1"/></svg>
<div class="t" style="left:1084.3px;top:690.3px;font-size:10px;color:#6d7790">1</div>
<svg class="abs" style="left:1114px;top:681px" width="24" height="24" viewBox="0 0 24 24"><g fill="none" stroke="#a6b8de" stroke-width="1" stroke-linejoin="round" stroke-linecap="round"><path d="M11 8.6V5c0-1.4 2.2-1.4 2.2 0V3.9c0-1.4 2.2-1.4 2.2 0V5.2c0-1.4 2.2-1.4 2.2 0V9c0-1.3 2-1.3 2 0V14c0 2.4-1.4 3.800000000000001-3.4 4.2"/><path d="M5.4 17.4V10.8c0-1.4 2.2-1.4 2.2 0V9.6c0-1.4 2.2-1.4 2.2 0V9.8c0-1.4 2.2-1.4 2.2 0V11.4c0-1.4 2.2-1.4 2.2 0V18c0 2.8-1.8 4.6-4.8 4.6c-2.6 0-3.800000000000001-1.2-5-3.2L2 17c-.7-1.2 .9-2.1 1.7-1z" fill="#f5f5f5"/><path d="M7.6 10.8V15M9.8 10V15M12 11V15M13.2 5V8.4M15.4 5V9" stroke-width=".7" stroke="#c3cfe8"/><path d="M2 2L4.8 4.4M6.5 .8L6.8 3.4M.8 6.4H3.800000000000001" stroke-width=".9"/></g></svg>
<div class="t" style="left:1142.3px;top:690.3px;font-size:10px;color:#6d7790">7</div>
<div class="abs" style="left:906px;top:728.7px;width:251px;height:1px;background:#c7d8ee"></div>
<svg class="abs" style="left:906px;top:745.6px;border-radius:2.5px 2.5px 0 0" width="250.3" height="50" viewBox="0 0 250 50" preserveAspectRatio="none">
<defs><filter id="c1" x="-5%" y="-10%" width="110%" height="120%"><feGaussianBlur stdDeviation=".7"/></filter><filter id="c3" x="-10%" y="-20%" width="120%" height="140%"><feGaussianBlur stdDeviation="2.2"/></filter>
<clipPath id="lens"><circle cx="81.7" cy="24" r="26.5"/></clipPath></defs>
<rect width="250" height="50" fill="#eef2f6"/>
<g filter="url(#c3)">
<path d="M-1.9,2.5 L40.9,0.5 L41.9,6.6 L18.5,12.7 L-1.9,10.7 Z" fill="#a9d5ec"/>
<rect x="42.9" y="0.5" width="18.3" height="6.1" fill="#cfe6f2"/>
<path d="M228.5,16.8 L234.6,12.3 L251.3,11.5 L251.3,22.9 L230.5,23.3 Z" fill="#ee9440"/><path d="M230.5,23.3 L251.3,22.9 L251.3,29.5 L238.7,29.1 Z" fill="#3aa0dc"/>
<rect x="126.5" y="38.2" width="22.4" height="12.2" fill="#dfe9ee"/>
</g>
<g filter="url(#c1)">
<g fill="#47b4d8"><rect x="6.6" y="45.4" width="1.8" height="5.1"/><rect x="10.7" y="44.1" width="1.8" height="6.4"/><rect x="14.8" y="42.8" width="1.8" height="7.6"/><rect x="18.9" y="41.6" width="1.8" height="8.9"/><rect x="23.0" y="40.3" width="1.8" height="10.2"/><rect x="27.0" y="39.0" width="1.8" height="11.4"/><rect x="31.1" y="37.8" width="1.8" height="12.7"/><rect x="35.2" y="36.5" width="1.8" height="13.9"/><rect x="39.3" y="35.2" width="1.8" height="15.2"/><rect x="43.3" y="34.0" width="1.8" height="16.5"/><rect x="47.4" y="32.7" width="1.8" height="17.7"/><rect x="51.5" y="31.5" width="1.8" height="19.0"/><rect x="55.6" y="30.2" width="1.8" height="20.3"/><rect x="59.7" y="28.9" width="1.8" height="21.5"/></g>
<rect x="106.7" y="2.5" width="41.2" height="35.7" fill="#d9bd86"/><rect x="106.7" y="14.0" width="41.2" height="0.8" fill="#bf9f62"/><rect x="106.7" y="25.0" width="41.2" height="0.8" fill="#bf9f62"/><rect x="106.7" y="2.5" width="41.2" height="2.4" fill="#e6cf9e"/>
<rect x="147.9" y="16.8" width="30.6" height="21.4" fill="#d4b57a"/><rect x="147.9" y="27.0" width="30.6" height="0.8" fill="#bb9b5e"/>
<rect x="210.1" y="27.0" width="41.2" height="23.4" fill="#d8ba7e"/><rect x="210.1" y="27.0" width="22.4" height="2.4" fill="#e4cc98"/><rect x="227.4" y="38.2" width="23.9" height="0.8" fill="#b99a5e"/>
<circle cx="81.7" cy="24" r="26.5" fill="#edf4f7"/>
<g clip-path="url(#lens)" fill="#8acfe6"><path d="M55.2,8.7 L57.4,7.8 L74.5,49.4 L72.3,50.3 Z M60.5,9.5 L62.7,8.7 L79.8,49.4 L77.6,50.3 Z M65.8,10.3 L68.0,9.5 L85.1,49.4 L82.9,50.3 Z M71.1,11.1 L73.3,10.3 L90.4,49.4 L88.2,50.3 Z M76.4,11.9 L78.6,11.1 L95.7,49.4 L93.5,50.3 Z M81.7,12.7 L83.9,11.9 L101.0,49.4 L98.8,50.3 Z M87.0,13.6 L89.2,12.7 L106.3,49.4 L104.1,50.3 Z "/><g fill="#e8924a"><rect x="77.6" y="43.3" width="2.0" height="7.1"/><rect x="83.3" y="42.5" width="2.0" height="8.0"/><rect x="89.0" y="41.7" width="2.0" height="8.8"/></g></g>
<circle cx="81.7" cy="24" r="27.2" fill="none" stroke="#b9b69c" stroke-width="1.8"/>
<path d="M109.4,21.7 L120.0,20.1" stroke="#b3ab90" stroke-width="2.4"/>
<path d="M120.8,20.1 L172.2,15.0" stroke="#161616" stroke-width="4.8" stroke-linecap="round"/>
<rect x="179.1" y="12.3" width="3.5" height="4.9" fill="#45454a"/>
<path d="M161.2,29.1 L198.9,9.7 L222.8,44.8 L177.5,57.6 Z" fill="#3a2f29"/>
<path d="M161.2,29.1 L198.9,9.7 L200.3,11.9 L163.2,31.1 Z" fill="#55463c"/>
<path d="M161.6,29.9 L146.5,50.5 L176.7,50.5 L173.4,45.4 Z" fill="#c42a3c"/>
<path d="M161.2,29.1 L144.5,50.5" stroke="#f6f1f1" stroke-width="1.8"/>
<rect x="156.3" y="42.5" width="4.9" height="8.0" fill="#f4f4f6"/><rect x="167.7" y="44.5" width="4.9" height="5.9" fill="#f4f4f6"/>
</g>
</svg>
<!--ARTICLES-->
</div></div>
</body></html>
